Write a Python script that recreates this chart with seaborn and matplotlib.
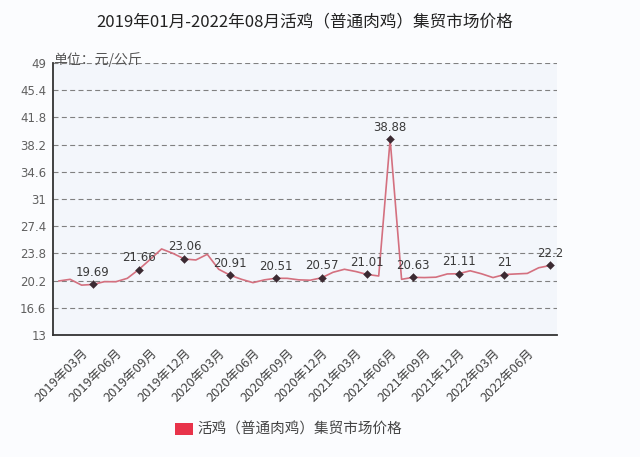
import matplotlib
matplotlib.use("Agg")
import matplotlib.pyplot as plt
import matplotlib.transforms as mtransforms
from matplotlib.patches import Patch
import seaborn as sns
import pandas as pd

# ---- data ----
months = [f"{y}年{m:02d}月" for y in range(2019, 2023) for m in range(1, 13)][:44]
prices = [20.15, 20.37, 19.6, 19.69, 20.06, 20.05, 20.5, 21.66, 23.0, 24.39,
          23.8, 23.06, 22.93, 23.68, 21.7, 20.91, 20.37, 19.93, 20.3, 20.51,
          20.5, 20.3, 20.25, 20.57, 21.3, 21.7, 21.4, 21.01, 20.81, 38.88,
          20.37, 20.63, 20.6, 20.65, 21.08, 21.11, 21.5, 21.1, 20.6, 21.0,
          21.08, 21.15, 21.9, 22.2]
label_idx = [3, 7, 11, 15, 19, 23, 27, 29, 31, 35, 39, 43]
label_txt = ["19.69", "21.66", "23.06", "20.91", "20.51", "20.57", "21.01",
             "38.88", "20.63", "21.11", "21", "22.2"]
tick_idx = list(range(2, 44, 3))
tick_labels = [months[i] for i in tick_idx]
y_ticks = [13, 16.6, 20.2, 23.8, 27.4, 31, 34.6, 38.2, 41.8, 45.4, 49]
y_tick_labels = ["13", "16.6", "20.2", "23.8", "27.4", "31", "34.6", "38.2",
                 "41.8", "45.4", "49"]
series_name = "活鸡（普通肉鸡）集贸市场价格"
title = "2019年01月-2022年08月活鸡（普通肉鸡）集贸市场价格"
unit = "单位：元/公斤"

df = pd.DataFrame({"idx": range(len(prices)), "price": prices})

sns.set_theme(style="white")
plt.rcParams["font.family"] = ["DejaVu Sans", "Noto Sans CJK SC"]
cjk = ["Noto Sans CJK SC", "DejaVu Sans"]

fig = plt.figure(figsize=(6.4, 4.57), dpi=100)
fig.patch.set_facecolor("#fbfcfe")
ax = fig.add_axes([53 / 640, 1 - 335 / 457, (557 - 53) / 640, (335 - 63) / 457])
ax.set_facecolor("#f3f6fb")

line_color = "#d4707f"
sns.lineplot(data=df, x="idx", y="price", ax=ax, color=line_color, linewidth=1.2)

ldf = df.iloc[label_idx]
sns.scatterplot(data=ldf, x="idx", y="price", ax=ax, marker="D", s=16,
                color="#3b2a32", edgecolor="#3b2a32", zorder=5)
for i, t in zip(label_idx, label_txt):
    ax.annotate(t, (i, prices[i]), xytext=(0, 4), textcoords="offset points",
                ha="center", va="bottom", fontsize=8.5, color="#3a3a3a")

ax.set_xlim(-0.5, 43.6)
ax.set_ylim(13, 49)
ax.set_yticks(y_ticks)
ax.set_yticklabels(y_tick_labels, fontsize=8.5, color="#606060")
off = mtransforms.ScaledTranslation(0, 4.5 / 100, fig.dpi_scale_trans)
for lab in ax.get_yticklabels():
    lab.set_transform(lab.get_transform() + off)
ax.tick_params(axis="y", length=0, pad=5)

ax.set_xticks(tick_idx)
ax.set_xticklabels(tick_labels, rotation=45, ha="right", rotation_mode="anchor",
                   fontsize=9.3, color="#444444", family=cjk)
ax.tick_params(axis="x", length=4, width=1, color="#333333", pad=4, direction="out")
ax.set_xlabel("")
ax.set_ylabel("")

for y in y_ticks[1:]:
    ax.axhline(y, color="#808080", linestyle=(0, (4.5, 3)), linewidth=0.8, zorder=1)

for s in ["top", "right"]:
    ax.spines[s].set_visible(False)
for s in ["left", "bottom"]:
    ax.spines[s].set_color("#333333")
    ax.spines[s].set_linewidth(1.3)

ut = ax.text(0.0, 49, unit, transform=ax.get_yaxis_transform(), ha="left",
             va="center_baseline", fontsize=10, color="#555555", family=cjk)
ut.set_transform(ut.get_transform() + off)

fig.text(305 / 640, 1 - 22 / 457, title, ha="center", va="center",
         fontsize=12, color="#222222", family=cjk)

handle = Patch(facecolor="#e8334a", edgecolor="none")
fig.legend([handle], [series_name], loc="center left",
           bbox_to_anchor=(162 / 640, 1 - 430 / 457), frameon=False,
           prop={"family": cjk, "size": 10.5}, handlelength=1.2,
           handleheight=0.8, handletextpad=0.3, labelcolor="#444444")

fig.savefig("out.png", dpi=100, facecolor=fig.get_facecolor())
